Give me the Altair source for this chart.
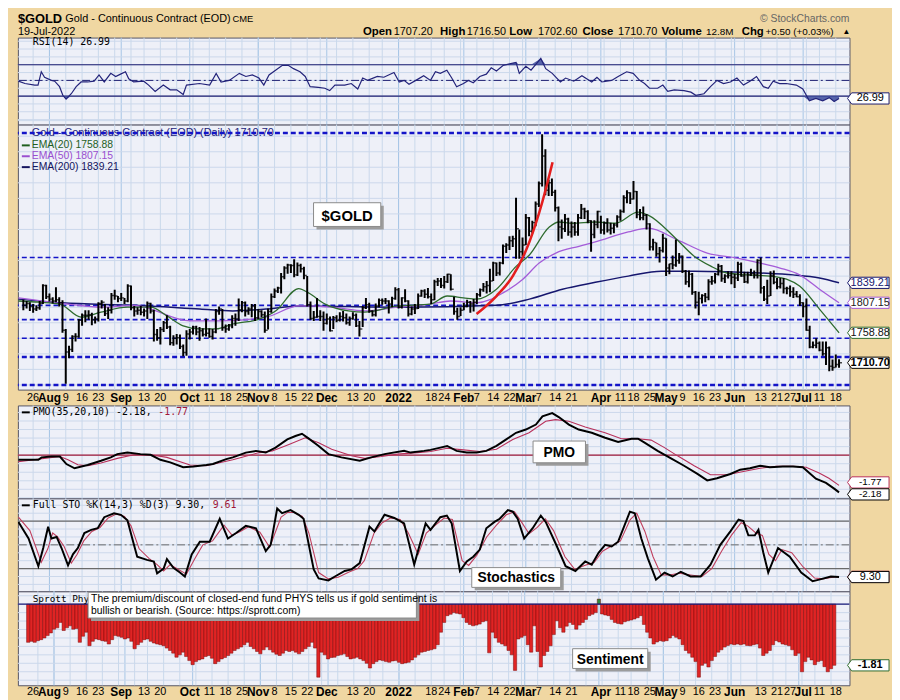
import altair as alt
import pandas as pd

# ---------------- calendar ----------------
HOLIDAYS = ["2021-09-06", "2021-11-25", "2021-12-24", "2022-01-17", "2022-02-21",
            "2022-04-15", "2022-05-30", "2022-06-20", "2022-07-04"]
dates = pd.bdate_range("2021-07-21", "2022-07-19", freq="C", holidays=HOLIDAYS)
N = len(dates)

AXIS_DATES = ["2021-07-26", "2021-08-02", "2021-08-09", "2021-08-16", "2021-08-23", "2021-09-01",
              "2021-09-13", "2021-09-20", "2021-10-01", "2021-10-11", "2021-10-18", "2021-10-25",
              "2021-11-01", "2021-11-08", "2021-11-15", "2021-11-22", "2021-12-01", "2021-12-13",
              "2021-12-20", "2022-01-03", "2022-01-18", "2022-01-24", "2022-02-01", "2022-02-07",
              "2022-02-14", "2022-02-22", "2022-03-01", "2022-03-07", "2022-03-14", "2022-03-21",
              "2022-04-01", "2022-04-11", "2022-04-18", "2022-04-25", "2022-05-02", "2022-05-09",
              "2022-05-16", "2022-05-23", "2022-06-01", "2022-06-13", "2022-06-21", "2022-06-27",
              "2022-07-01", "2022-07-11", "2022-07-18"]
AXIS_TEXT = ["26", "Aug", "9", "16", "23", "Sep", "13", "20", "Oct", "11", "18", "25", "Nov", "8", "15",
             "22", "Dec", "13", "20", "2022", "18", "24", "Feb", "7", "14", "22", "Mar", "7", "14", "21",
             "Apr", "11", "18", "25", "May", "9", "16", "23", "Jun", "13", "21", "27", "Jul", "11", "18"]
MONTH_TEXT = ["Aug", "Sep", "Oct", "Nov", "Dec", "2022", "Feb", "Mar", "Apr", "May", "Jun", "Jul"]

# ---------------- price data (daily) ----------------
closes = [1803, 1806, 1801, 1797, 1799, 1806, 1835, 1817,
          1813, 1810, 1812, 1807, 1763, 1728, 1732, 1753, 1753, 1779,
          1787, 1787, 1788, 1780, 1781, 1806, 1808, 1790, 1795, 1819,
          1818, 1814, 1815, 1810, 1834, 1799, 1794, 1795, 1792,
          1794, 1806, 1794, 1756, 1751, 1764, 1775, 1768, 1743, 1750,
          1751, 1737, 1727, 1757, 1760, 1768, 1760, 1762, 1756, 1758,
          1753, 1760, 1793, 1797, 1767, 1765, 1770, 1782, 1781, 1796,
          1807, 1793, 1797, 1802, 1783, 1793, 1788, 1763, 1793, 1817,
          1826, 1831, 1849, 1863, 1868, 1867, 1852, 1867, 1862, 1851,
          1804, 1782, 1784, 1785, 1785, 1774, 1781, 1762, 1783,
          1779, 1785, 1783, 1775, 1782, 1787, 1770, 1765, 1799, 1804,
          1794, 1788, 1802, 1811, 1810, 1810, 1805, 1814, 1828,
          1800, 1815, 1810, 1789, 1797, 1798, 1818, 1826, 1821, 1817,
          1812, 1841, 1842, 1835, 1841, 1853, 1829, 1793, 1785,
          1795, 1801, 1808, 1805, 1808, 1820, 1828, 1833, 1835, 1842,
          1871, 1855, 1871, 1898, 1900, 1907, 1910, 1926, 1889,
          1900, 1944, 1922, 1936, 1966, 1999, 2043, 1988, 2000, 1985,
          1960, 1929, 1926, 1942, 1921, 1929, 1921, 1944, 1958, 1954,
          1939, 1917, 1933, 1954, 1924, 1935, 1924, 1927, 1932, 1945,
          1954, 1976, 1984, 1974, 1986, 1949, 1944, 1948, 1934,
          1897, 1904, 1886, 1891, 1911, 1863, 1870, 1868, 1875, 1882,
          1858, 1841, 1853, 1824, 1808, 1814, 1819, 1816, 1841, 1842,
          1853, 1866, 1846, 1850, 1851, 1848, 1847, 1869, 1850,
          1841, 1852, 1854, 1852, 1875, 1831, 1813, 1818, 1851, 1840,
          1833, 1838, 1830, 1830, 1825, 1821, 1817, 1807, 1801,
          1763, 1736, 1739, 1742, 1731, 1725, 1735, 1705, 1703, 1708, 1710.7]
highs = [1812, 1810, 1808, 1805, 1803, 1810, 1837, 1836,
         1822, 1816, 1832, 1816, 1811, 1765, 1738, 1755, 1758, 1781,
         1790, 1795, 1795, 1791, 1785, 1808, 1811, 1805, 1800, 1823,
         1828, 1818, 1823, 1815, 1837, 1835, 1802, 1800, 1802,
         1798, 1809, 1807, 1796, 1765, 1768, 1778, 1787, 1770, 1755,
         1757, 1756, 1740, 1763, 1765, 1770, 1770, 1768, 1766, 1782,
         1766, 1765, 1797, 1801, 1797, 1772, 1773, 1787, 1790, 1814,
         1810, 1809, 1800, 1805, 1805, 1797, 1795, 1793, 1798, 1822,
         1830, 1833, 1855, 1866, 1870, 1869, 1877, 1872, 1870, 1865,
         1850, 1809, 1794, 1815, 1795, 1793, 1790, 1785, 1786,
         1787, 1792, 1794, 1790, 1785, 1792, 1790, 1778, 1802, 1815,
         1807, 1795, 1806, 1814, 1814, 1815, 1811, 1817, 1832,
         1831, 1816, 1829, 1811, 1801, 1805, 1822, 1828, 1829, 1831,
         1822, 1844, 1847, 1847, 1850, 1854, 1853, 1817, 1799,
         1800, 1807, 1812, 1810, 1813, 1823, 1830, 1839, 1842, 1862,
         1873, 1872, 1873, 1901, 1903, 1914, 1915, 1976, 1925,
         1912, 1950, 1945, 1939, 1970, 2002, 2078, 2054, 2005, 2007,
         1989, 1962, 1941, 1950, 1944, 1938, 1937, 1950, 1966, 1960,
         1956, 1940, 1940, 1955, 1947, 1938, 1943, 1936, 1935, 1948,
         1957, 1980, 1988, 1985, 2003, 1987, 1958, 1962, 1950,
         1935, 1910, 1904, 1897, 1918, 1911, 1870, 1883, 1909, 1887,
         1883, 1860, 1859, 1855, 1826, 1825, 1821, 1823, 1845, 1850,
         1855, 1870, 1868, 1853, 1858, 1858, 1854, 1873, 1872,
         1857, 1857, 1862, 1859, 1877, 1880, 1834, 1844, 1858, 1859,
         1847, 1847, 1847, 1833, 1835, 1832, 1826, 1821, 1808,
         1814, 1770, 1745, 1750, 1745, 1745, 1745, 1737, 1716, 1724, 1716.5]
lows = [1795, 1798, 1794, 1791, 1794, 1796, 1805, 1813,
        1809, 1806, 1808, 1801, 1759, 1677, 1718, 1728, 1745, 1751,
        1770, 1776, 1780, 1771, 1774, 1777, 1798, 1786, 1781, 1790,
        1812, 1808, 1810, 1805, 1808, 1795, 1785, 1788, 1787,
        1785, 1781, 1790, 1745, 1746, 1740, 1760, 1765, 1739, 1738,
        1740, 1733, 1721, 1722, 1748, 1756, 1755, 1746, 1753, 1753,
        1751, 1748, 1758, 1788, 1762, 1759, 1762, 1766, 1770, 1778,
        1792, 1785, 1788, 1784, 1778, 1781, 1784, 1759, 1764, 1791,
        1815, 1823, 1822, 1845, 1854, 1855, 1848, 1850, 1856, 1845,
        1801, 1780, 1778, 1783, 1778, 1762, 1772, 1761, 1765,
        1776, 1777, 1777, 1772, 1770, 1780, 1768, 1753, 1768, 1797,
        1791, 1785, 1785, 1800, 1804, 1805, 1790, 1800, 1812,
        1798, 1798, 1808, 1785, 1787, 1789, 1797, 1817, 1815, 1814,
        1805, 1811, 1834, 1831, 1830, 1839, 1827, 1788, 1780,
        1786, 1795, 1800, 1791, 1793, 1805, 1817, 1825, 1822, 1824,
        1842, 1850, 1851, 1869, 1887, 1892, 1897, 1878, 1878,
        1882, 1900, 1914, 1919, 1930, 1961, 1994, 1980, 1979, 1979,
        1954, 1906, 1910, 1921, 1915, 1912, 1915, 1915, 1942, 1942,
        1935, 1889, 1911, 1927, 1918, 1917, 1920, 1917, 1919, 1928,
        1939, 1952, 1967, 1966, 1973, 1943, 1940, 1940, 1925,
        1891, 1891, 1881, 1872, 1888, 1850, 1853, 1861, 1865, 1870,
        1855, 1836, 1832, 1820, 1798, 1787, 1806, 1808, 1811, 1836,
        1838, 1851, 1841, 1839, 1846, 1837, 1831, 1842, 1849,
        1839, 1838, 1850, 1846, 1846, 1822, 1810, 1805, 1818, 1837,
        1829, 1830, 1822, 1821, 1817, 1815, 1816, 1802, 1784,
        1762, 1734, 1734, 1734, 1729, 1722, 1707, 1697, 1698, 1703, 1702.6]

# moving averages (bar index, value)
ema20_i = [-1.5, 5, 11.2, 17.7, 23.8, 31.9, 39, 44, 49, 54.1, 59.1, 64.2, 72.3, 77.3, 84.4, 87.4, 92.5,
           99.6, 104.6, 114.7, 124.8, 129.9, 134.9, 138.9, 145, 151.1, 155.1, 161.2, 164.2, 168.2,
           175.3, 181.4, 188.4, 191.5, 199.5, 205.6, 210.7, 215.7, 221.8, 228.8, 233.9, 237.9, 244, 250]
ema20_v = [1810, 1808, 1805, 1784, 1792, 1800, 1800, 1786, 1770, 1765, 1765, 1773, 1781, 1794, 1830, 1823,
           1805, 1794, 1792, 1802, 1805, 1818, 1815, 1813, 1829, 1866, 1884, 1929, 1937, 1935, 1937, 1935,
           1953, 1948, 1913, 1882, 1866, 1855, 1852, 1850, 1845, 1834, 1797, 1758.88]
ema50_i = [-1.5, 13.7, 23.8, 33.9, 51.1, 60.2, 74.3, 84.4, 94.5, 104.6, 114.7, 124.8, 130.9, 138.9, 147,
           153.1, 158.1, 163.2, 170.3, 175.3, 185.4, 191.5, 200.6, 209.6, 218.7, 225.8, 231.9, 237.9, 244, 250]
ema50_v = [1815, 1805, 1800, 1803, 1778, 1778, 1784, 1802, 1800, 1794, 1800, 1805, 1810, 1807, 1823, 1845,
           1871, 1887, 1898, 1905, 1921, 1927, 1908, 1887, 1879, 1871, 1863, 1852, 1829, 1807.15]
ema200_i = [-1.5, 11.7, 33.9, 54.1, 64.2, 74.3, 84.4, 114.7, 145, 155.1, 165.2, 175.3, 185.4, 195.5,
            205.6, 215.7, 225.8, 235.9, 244, 250]
ema200_v = [1813, 1807, 1803, 1797, 1794, 1797, 1802, 1800, 1803, 1813, 1829, 1840, 1850, 1858, 1858,
            1857, 1855, 1852, 1847, 1839.21]
curve_i = [138.9, 145, 150, 155.1, 159.1, 162.2]
curve_v = [1789, 1818, 1850, 1905, 1970, 2033]
levels_thin = [1880, 1803, 1780, 1750]
levels_thick = [2080, 1720, 1675]

# ---------------- RSI ----------------
rsi_i = [-1.5, 0.5, 3.5, 4.5, 5.5, 6.5, 8.6, 9.6, 11.1, 12.1, 13.1, 14.7, 16.2, 17.7, 19.7, 21.7, 23.2, 24.8,
         26.8, 28.3, 29.8, 31.3, 32.3, 33.8, 36.9, 38.4, 40.4, 42.9, 45, 47, 49, 50, 54, 57.1, 59.1, 60.6,
         63.1, 66.2, 68.2, 70.2, 72.2, 73.7, 75.3, 77.3, 79.3, 81.3, 82.8, 84.8, 86.4, 87.9, 90.4, 92.4,
         93.9, 95.5, 98.5, 100.5, 102.5, 104, 105.5, 108.5, 110.5, 113.6, 115.2, 116.7, 118.2, 120.7, 122.7,
         124.8, 126.3, 127.8, 129.8, 131.3, 132.8, 134.9, 136.4, 137.9, 139.9, 141.9, 143.4, 145, 147, 149,
         151, 152, 154, 155.6, 158.6, 160.1, 162.1, 164.6, 166.2, 168.7, 171.2, 174.2, 175.8, 177.3, 180.3,
         182.3, 184.9, 186.9, 188.9, 190.4, 191.9, 194.4, 196, 197.5, 199.5, 202.5, 204.6, 206.1, 208.6,
         210.6, 212.6, 214.6, 216.7, 218.7, 220.7, 222.7, 224.7, 226.8, 228.3, 229.8, 231.8, 233.8, 236.9,
         238.9, 240.9, 242.9, 245, 247, 248.5, 250]
rsi_v = [49, 46, 44, 44, 61, 54, 50, 49, 42, 31, 26, 33, 42, 48, 48, 49, 57, 48, 59, 55, 58, 61, 52, 48, 49,
         44, 36, 44, 38, 38, 32, 44, 46, 44, 59, 48, 50, 59, 55, 57, 53, 44, 57, 63, 69, 69, 65, 61, 55, 42,
         41, 40, 37, 44, 44, 46, 39, 53, 50, 55, 54, 60, 48, 50, 45, 51, 56, 50, 61, 59, 63, 53, 42, 46, 50,
         47, 55, 58, 66, 62, 69, 71, 73, 59, 68, 63, 78, 65, 59, 48, 53, 49, 56, 48, 54, 48, 50, 55, 61, 59,
         50, 46, 40, 40, 44, 36, 38, 37, 35, 31, 33, 42, 50, 46, 48, 53, 44, 49, 55, 42, 40, 49, 46, 46, 44,
         39, 24, 27, 24, 28, 23, 26.99]

# ---------------- PMO ----------------
pmo_i = [-1.5, 4.6, 5.6, 8.6, 11.2, 13.2, 15.7, 19.7, 23.8, 26.8, 28.8, 31.9, 35.9, 39, 42, 45, 49, 52.1,
         56.1, 58.1, 62.2, 64.2, 68.2, 71.3, 74.3, 77.3, 80.9, 83.4, 85.4, 87.4, 90.5, 93.5, 97.5, 103.1,
         106.6, 110.7, 116.7, 118.7, 122.8, 124.8, 127.8, 129.9, 132.8, 135.9, 138.9, 141.9, 145, 148, 151,
         154, 157.1, 159.1, 162.1, 164.1, 167.2, 170.2, 174.2, 178.3, 182.3, 186.4, 188.4, 190.4, 194.4,
         198.5, 202.5, 206.6, 209.6, 212.6, 216.7, 219.7, 222.7, 225.8, 228.8, 232.8, 235.9, 238.9, 240.9,
         242.9, 246, 248.5, 250]
pmo_v = [-0.27, -0.27, -0.13, -0.08, -0.08, -0.52, -0.77, -0.58, -0.33, -0.13, 0.06, 0.15, 0.06, 0.02,
         -0.27, -0.42, -0.71, -0.67, -0.58, -0.52, -0.23, -0.13, 0.15, 0.25, 0.15, 0.44, 0.92, 1.12, 1.25,
         0.98, 0.54, 0.06, -0.13, -0.33, -0.13, 0.06, 0.25, 0.15, 0.25, 0.31, 0.44, 0.54, 0.25, 0.15, 0.15,
         0.25, 0.54, 0.92, 1.31, 1.5, 1.79, 2.27, 2.46, 2.23, 1.79, 1.5, 1.31, 1.02, 0.77, 0.96, 0.96, 0.73,
         0.25, -0.19, -0.62, -1.1, -1.48, -1.35, -1.1, -0.85, -0.77, -0.62, -0.71, -0.67, -0.67, -0.71,
         -1.04, -1.38, -1.62, -1.96, -2.18]
sig_i = [-1.5, 11.2, 13.7, 16.7, 19.8, 23.8, 28.8, 33.9, 39, 44, 51.1, 56.1, 64.2, 72.3, 76.3, 81.4, 86.4,
         90.5, 94.5, 100.6, 104.6, 109.7, 114.7, 120.8, 124.8, 129.9, 134.9, 139.9, 145, 150, 155, 160.1,
         163.1, 167.2, 172.2, 178.3, 183.3, 188.4, 192.4, 196.5, 200.5, 205.6, 210.6, 215.7, 220.7, 225.8,
         230.8, 235.9, 239.9, 243.9, 246.9, 250]
sig_v = [-0.38, -0.08, -0.27, -0.56, -0.62, -0.46, -0.19, 0.02, 0.02, -0.13, -0.58, -0.62, -0.27, 0.15,
         0.25, 0.63, 1.02, 0.73, 0.35, -0.04, -0.19, -0.08, 0.06, 0.15, 0.21, 0.4, 0.31, 0.21, 0.35, 0.92,
         1.31, 1.98, 2.08, 1.98, 1.65, 1.31, 0.96, 0.96, 0.88, 0.44, -0.04, -0.62, -1.15, -1.15, -0.96,
         -0.77, -0.65, -0.65, -0.71, -1.04, -1.35, -1.77]

# ---------------- Full Stochastics ----------------
k_i = [-1.5, 1.6, 4.6, 6.1, 7.6, 8.6, 10.2, 11.7, 13.7, 15.2, 16.7, 18.7, 20.8, 22.8, 24.8, 27.8, 29.9, 31.9,
       33.9, 34.9, 37.9, 40, 41, 43, 44, 46, 48, 49.5, 51.6, 54.1, 57.1, 60.2, 62.7, 65.2, 68.2, 71.3,
       74.3, 75.8, 77.8, 79.3, 81.9, 84.4, 85.9, 89, 90.5, 93.5, 95.5, 98.5, 100.6, 103.1, 106.1, 107.6,
       110.7, 113.7, 116.7, 119.8, 123.3, 124.8, 127.8, 129.8, 131.3, 133.8, 135.9, 137.9, 139.9, 141.9,
       144.4, 146, 148.5, 150, 151.5, 153.5, 156.1, 158.6, 160.1, 163.1, 166.2, 169.2, 172.2, 174.2,
       176.3, 178.3, 180.3, 182.3, 185.9, 187.4, 189.4, 191.4, 193.9, 196.5, 199, 201.5, 204.5, 207.6,
       210.6, 213.6, 216.7, 219.2, 220.7, 222.2, 224.2, 225.3, 226.8, 228.3, 231.3, 234.9, 238.4, 241.9,
       243.9, 247.5, 250]
k_v = [79, 58, 23, 46, 73, 58, 60, 46, 24, 38, 46, 65, 69, 71, 85, 90, 88, 81, 50, 35, 31, 29, 14, 20, 32,
       21, 15, 10, 38, 54, 54, 83, 58, 65, 74, 71, 42, 50, 96, 90, 94, 88, 83, 19, 7.5, 5, 10, 17, 19, 27,
       73, 67, 88, 84, 77, 25, 77, 69, 85, 87, 77, 17, 29, 35, 44, 71, 79, 83, 94, 92, 83, 58, 71, 87, 79,
       52, 23, 17, 29, 25, 40, 50, 48, 54, 92, 90, 58, 33, 6, 15, 10, 16, 10, 10, 25, 50, 67, 82, 80, 62,
       62, 69, 40, 15, 46, 35, 15, 4, 6, 10, 9.3]
d_i = [-1.5, 2, 5.5, 7.5, 9, 10.5, 12.5, 14.7, 16.5, 18.5, 21, 23.5, 26, 28.5, 31, 33, 35.5, 38.5, 41, 43,
       45, 47, 50, 52.5, 55, 58, 61.5, 64, 66.5, 69, 72.5, 75.5, 79, 81, 83, 85.5, 87.5, 90.5, 93.5, 96.5,
       100, 102.5, 104.5, 107.5, 110, 112.5, 115.5, 118, 121, 123.5, 126, 129, 131.5, 134.5, 136.5, 139,
       142, 145, 148, 150.5, 152.5, 155, 157.5, 160, 162.5, 166, 169, 172, 175, 177.5, 180, 183, 186,
       188, 190.5, 193, 195.5, 198, 201, 204.5, 208, 211, 214, 217, 220, 222, 224.5, 226.5, 228.5, 230.5,
       232.5, 235.5, 239, 242.5, 245, 248, 250]
d_v = [85, 68, 28, 45, 65, 60, 48, 27, 38, 55, 67, 72, 84, 89, 86, 74, 45, 33, 25, 17, 25, 20, 13, 32, 50,
       55, 75, 62, 67, 73, 66, 47, 85, 91, 91, 86, 65, 15, 7, 9, 16, 20, 30, 65, 78, 84, 82, 65, 38, 65,
       74, 84, 82, 30, 24, 37, 60, 75, 88, 92, 80, 64, 72, 83, 68, 35, 19, 24, 28, 42, 48, 55, 82, 90, 67,
       35, 12, 12, 14, 12, 10, 20, 42, 62, 78, 74, 65, 62, 38, 30, 44, 40, 22, 8, 7, 9, 9.61]

# ---------------- Sprott PHYS premium / discount (daily) ----------------
sentiment = [-1.13, -1.10, -1.13, -1.08, -1.05, -1.00, -0.93, -0.85, -0.74, -0.70,
             -0.54, -0.78, -0.70, -0.64, -0.74, -0.72, -1.13, -0.95, -0.83, -1.23,
             -1.10, -1.03, -1.05, -1.08, -1.10, -1.18, -1.05, -0.93, -0.95, -0.98,
             -1.03, -1.00, -1.10, -1.32, -1.20, -1.13, -1.05, -1.03, -1.10, -1.15,
             -1.18, -1.20, -1.23, -1.30, -1.37, -1.45, -1.57, -1.50, -1.42, -1.55,
             -1.67, -1.79, -1.70, -1.65, -1.62, -1.55, -1.52, -1.60, -1.76, -1.70,
             -1.62, -1.58, -1.52, -1.45, -1.37, -1.32, -1.27, -1.20, -1.13, -1.25,
             -1.32, -1.40, -1.47, -1.35, -1.27, -1.35, -1.42, -1.48, -1.52, -1.45,
             -1.37, -1.40, -1.37, -1.42, -1.47, -1.40, -1.32, -1.25, -1.13, -1.30,
             -2.16, -1.42, -1.50, -1.62, -1.58, -1.57, -1.52, -1.50, -1.47, -1.55,
             -1.62, -1.60, -1.57, -1.62, -1.67, -1.75, -1.89, -1.76, -1.70, -1.65,
             -1.67, -1.70, -1.72, -1.68, -1.67, -1.72, -1.76, -1.74, -1.72, -1.65,
             -1.57, -1.50, -1.42, -1.40, -1.37, -1.35, -1.32, -1.20, -0.83, -0.54,
             -0.34, -0.30, -0.25, -0.27, -0.29, -0.40, -0.54, -0.60, -0.64, -0.62,
             -0.59, -0.52, -0.49, -1.44, -0.83, -1.00, -1.13, -1.18, -1.23, -1.37,
             -1.50, -1.96, -1.03, -0.98, -0.93, -1.20, -1.42, -0.64, -1.40, -1.86,
             -1.52, -1.40, -1.23, -0.90, -0.49, -0.70, -0.83, -0.65, -0.54, -0.60,
             -0.74, -0.62, -0.54, -0.45, -0.34, -0.30, -0.25, 0.15, -0.29, -0.32,
             -0.34, -0.45, -0.54, -0.57, -0.59, -0.52, -0.49, -0.47, -0.44, -0.40,
             -0.34, -0.60, -0.83, -1.00, -1.18, -1.12, -1.08, -1.10, -1.08, -1.00,
             -0.93, -0.98, -1.03, -1.20, -1.37, -1.45, -1.57, -1.70, -2.16, -1.81,
             -1.75, -1.86, -1.67, -1.55, -1.42, -1.35, -1.27, -1.22, -1.18, -1.20,
             -1.18, -1.20, -1.18, -1.22, -1.23, -1.20, -1.18, -1.30, -1.52, -1.45,
             -1.37, -1.20, -1.08, -1.12, -1.18, -1.20, -1.23, -1.35, -1.52, -1.45,
             -2.00, -1.70, -1.57, -1.65, -1.79, -1.70, -1.67, -1.85, -2.00, -1.91, -1.81]

# ---------------- styling ----------------
W = 841
BG = "#F0D7A2"
PLOT_BG = "#EEF0F8"
BORDER = "#555566"
FONT = "Liberation Sans"
MONO = "DejaVu Sans Mono"
XS = alt.Scale(domain=[-1.67, 253.2], nice=False, zero=False)
TAG = "M-1,0L-0.8,-0.27L1,-0.27L1,0.27L-0.8,0.27Z"
TAGX = 860

dummy = pd.DataFrame({"d": [0]})
week_idx = [i for i in range(1, N) if dates[i].weekday() < dates[i - 1].weekday()]
month_idx = [i for i in range(1, N) if dates[i].month != dates[i - 1].month]
label_idx = list(dates.get_indexer(pd.to_datetime(AXIS_DATES)))


def txt(s, x, y, size=11, weight="normal", color="black", align="left", font=FONT):
    return alt.Chart(dummy).mark_text(text=s, fontSize=size, fontWeight=weight, color=color,
                                      align=align, baseline="middle", font=font).encode(
        x=alt.value(x), y=alt.value(y))


def box(x1, y1, x2, y2, label, size=14):
    shadow = alt.Chart(dummy).mark_rect(color="#9C9C9C").encode(
        x=alt.value(x1 + 3), x2=alt.value(x2 + 3), y=alt.value(y1 + 3), y2=alt.value(y2 + 3))
    face = alt.Chart(dummy).mark_rect(fill="white", stroke="#8A8A8A", strokeWidth=1).encode(
        x=alt.value(x1), x2=alt.value(x2), y=alt.value(y1), y2=alt.value(y2))
    layers = [shadow, face]
    if label:
        layers.append(txt(label, (x1 + x2) / 2, (y1 + y2) / 2 + 1, size=size, weight="bold", align="center"))
    return layers


def seg(x1, x2, y, color, w=2):
    return alt.Chart(dummy).mark_rule(color=color, strokeWidth=w).encode(
        x=alt.value(x1), x2=alt.value(x2), y=alt.value(y))


def vgrid():
    wk = alt.Chart(pd.DataFrame({"i": week_idx})).mark_rule(color="#C9D9EB", strokeWidth=1).encode(
        x=alt.X("i:Q", scale=XS, axis=None))
    mo = alt.Chart(pd.DataFrame({"i": month_idx})).mark_rule(color="#A6C5E6", strokeWidth=1).encode(
        x=alt.X("i:Q", scale=XS, axis=None))
    return [wk, mo]


def hgrid(vals, ys, axis_vals, fmt):
    ax = alt.Axis(orient="right", values=axis_vals, format=fmt, title=None, grid=False, domain=False,
                  ticks=True, tickSize=3, tickColor="#333333", labelFont=FONT, labelFontSize=11,
                  labelColor="black", labelPadding=1)
    return alt.Chart(pd.DataFrame({"v": vals})).mark_rule(color="#CBD8EB", strokeWidth=1).encode(
        y=alt.Y("v:Q", scale=ys, axis=ax))


def hlines(vals, ys, color, w=1, dash=None):
    kw = dict(color=color, strokeWidth=w)
    if dash:
        kw["strokeDash"] = dash
    return alt.Chart(pd.DataFrame({"v": vals})).mark_rule(**kw).encode(
        y=alt.Y("v:Q", scale=ys, axis=None))


def series(xs, vs, ys, color, w=1.2, interp="linear"):
    return alt.Chart(pd.DataFrame({"i": xs, "v": vs})).mark_line(
        color=color, strokeWidth=w, interpolate=interp, clip=True).encode(
        x=alt.X("i:Q", scale=XS, axis=None), y=alt.Y("v:Q", scale=ys, axis=None))


def tag(v, label, ys, border, tcolor="black", bold=False, shift=0, size=11):
    df = pd.DataFrame({"v": [v]})
    shape = alt.Chart(df).mark_point(shape=TAG, size=1764, filled=True, fill="white", fillOpacity=1,
                                     opacity=1, stroke=border, strokeWidth=1, clip=False,
                                     yOffset=shift).encode(
        x=alt.value(TAGX), y=alt.Y("v:Q", scale=ys, axis=None))
    t = alt.Chart(df).mark_text(text=label, font=FONT, fontSize=size, color=tcolor,
                                fontWeight="bold" if bold else "normal", align="center",
                                baseline="middle", clip=False, yOffset=shift).encode(
        x=alt.value(TAGX + 2), y=alt.Y("v:Q", scale=ys, axis=None))
    return [shape, t]


def panel_view():
    return alt.ViewBackground(fill=PLOT_BG, stroke=BORDER, strokeWidth=1)


def clear_view():
    return alt.ViewBackground(fill="transparent", stroke="transparent")


# ---------------- header ----------------
header = alt.layer(
    txt("$GOLD", 0, 5, size=13, weight="bold"),
    txt("Gold - Continuous Contract (EOD)", 48, 5.5, size=11),
    txt("CME", 217, 5.5, size=9.5),
    txt("19-Jul-2022", 0, 18.5, size=11),
    txt("© StockCharts.com", 841, 5, size=10.5, color="#666666", align="right"),
    txt("Open", 349, 18.5, size=11.5, weight="bold"), txt("1707.20", 380, 18.5, size=11),
    txt("High", 427, 18.5, size=11.5, weight="bold"), txt("1716.50", 454, 18.5, size=11),
    txt("Low", 497, 18.5, size=11.5, weight="bold"), txt("1702.60", 526, 18.5, size=11),
    txt("Close", 571, 18.5, size=11.5, weight="bold"), txt("1710.70", 607, 18.5, size=11),
    txt("Volume", 651, 18.5, size=11.5, weight="bold"), txt("12.8M", 696, 18.5, size=10),
    txt("Chg", 732, 18.5, size=11.5, weight="bold"), txt("+0.50 (+0.03%)", 756, 18.5, size=10),
    txt("▲", 834, 18, size=8),
).properties(width=W, height=24, view=clear_view())

# ---------------- RSI panel ----------------
ys_rsi = alt.Scale(domain=[-6.4, 104.6], nice=False, zero=False)
rsi_df = pd.DataFrame({"i": rsi_i, "v": rsi_v})
rsi_low = alt.Chart(rsi_df).transform_calculate(lo="min(datum.v, 30)", b="30").mark_area(
    color="#3D4B9C", opacity=0.85, orient="vertical", clip=True).encode(
    x=alt.X("i:Q", scale=XS, axis=None), y=alt.Y("lo:Q", scale=ys_rsi, axis=None), y2="b:Q")
rsi_high = alt.Chart(rsi_df).transform_calculate(hi="max(datum.v, 70)", b="70").mark_area(
    color="#3D4B9C", opacity=0.85, orient="vertical", clip=True).encode(
    x=alt.X("i:Q", scale=XS, axis=None), y=alt.Y("hi:Q", scale=ys_rsi, axis=None), y2="b:Q")
rsi_panel = alt.layer(
    *vgrid(),
    hgrid(list(range(0, 101, 10)), ys_rsi, [10, 30, 50, 70, 90], "d"),
    hlines([30, 70], ys_rsi, "#1C1C70", 1.2),
    hlines([50], ys_rsi, "#1C1C70", 1, [8, 3, 2, 3]),
    rsi_low, rsi_high,
    series(rsi_i, rsi_v, ys_rsi, "#23237A", 1.2),
    txt("RSI(14) 26.99", 15, 4.5, size=10, font=MONO),
    *tag(26.99, "26.99", ys_rsi, "#1C1C70"),
).properties(width=W, height=88, view=panel_view())

# ---------------- price panel ----------------
ys_p = alt.Scale(domain=[1667.5, 2093.6], nice=False, zero=False)
ohlc = pd.DataFrame({"i": list(range(N)), "h": highs, "l": lows, "c": closes})
bars = alt.Chart(ohlc).mark_rule(color="black", strokeWidth=2, clip=True).encode(
    x=alt.X("i:Q", scale=XS, axis=None), y=alt.Y("l:Q", scale=ys_p, axis=None), y2="h:Q")
close_ticks = alt.Chart(ohlc).mark_tick(color="black", orient="horizontal", size=3, thickness=1.5,
                                        xOffset=1.5, clip=True).encode(
    x=alt.X("i:Q", scale=XS, axis=None), y=alt.Y("c:Q", scale=ys_p, axis=None))
price_panel = alt.layer(
    *vgrid(),
    hgrid(list(range(1675, 2101, 25)), ys_p, list(range(1675, 2076, 25)), "d"),
    txt("Gold - Continuous Contract (EOD) (Daily) 1710.70", 14, 9, size=11, color="#22227A"),
    hlines(levels_thin, ys_p, "#1414C8", 1.6, [5, 3]),
    hlines(levels_thick, ys_p, "#1414C8", 2.6, [5, 3]),
    series(ema200_i, ema200_v, ys_p, "#16166E", 1.5, "monotone"),
    series(ema50_i, ema50_v, ys_p, "#A45CD8", 1.3, "monotone"),
    series(ema20_i, ema20_v, ys_p, "#2E6B2E", 1.3, "monotone"),
    bars, close_ticks,
    series(curve_i, curve_v, ys_p, "#E41E1E", 2.6, "monotone"),
    seg(4, 12, 21, "#1F5F1F"), txt("EMA(20) 1758.88", 14, 21, size=10.5, color="#1F5F1F"),
    seg(4, 12, 32, "#9A4FD0"), txt("EMA(50) 1807.15", 14, 32, size=10.5, color="#9A4FD0"),
    seg(4, 12, 43, "#14145E"), txt("EMA(200) 1839.21", 14, 43, size=10.5, color="#14145E"),
    *box(299, 79, 367, 103, "$GOLD", size=15),
    *tag(1839.21, "1839.21", ys_p, "#16166E", "#16166E"),
    *tag(1807.15, "1807.15", ys_p, "#A45CD8", "#222222"),
    *tag(1758.88, "1758.88", ys_p, "#2E6B2E", "#111111"),
    *tag(1710.70, "1710.70", ys_p, "black", "black", bold=True),
).properties(width=W, height=268, view=panel_view())

# ---------------- date strips ----------------
lab_df = pd.DataFrame({"i": label_idx, "t": AXIS_TEXT})


def date_strip(h, ymid):
    month = alt.Chart(lab_df).transform_filter(
        alt.FieldOneOfPredicate(field="t", oneOf=MONTH_TEXT)).mark_text(
        font=FONT, fontSize=12, fontWeight="bold", color="black", baseline="middle").encode(
        x=alt.X("i:Q", scale=XS, axis=None), y=alt.value(ymid), text="t:N")
    days = alt.Chart(lab_df).transform_filter(
        {"not": alt.FieldOneOfPredicate(field="t", oneOf=MONTH_TEXT)}).mark_text(
        font=FONT, fontSize=11, color="black", baseline="middle").encode(
        x=alt.X("i:Q", scale=XS, axis=None), y=alt.value(ymid), text="t:N")
    return alt.layer(month, days).properties(width=W, height=h, view=clear_view())


strip_mid = date_strip(16, 8.5)
strip_bot = date_strip(13, 7)

# ---------------- PMO panel ----------------
ys_pmo = alt.Scale(domain=[-2.53, 2.91], nice=False, zero=False)
pmo_panel = alt.layer(
    *vgrid(),
    hgrid([-2.5, -2, -1.5, -1, -0.5, 0, 0.5, 1, 1.5, 2, 2.5], ys_pmo, [-2, -1, 0, 1, 2], "d"),
    hlines([0], ys_pmo, "#A01838", 1.2),
    series(sig_i, sig_v, ys_pmo, "#B8305A", 1.1),
    series(pmo_i, pmo_v, ys_pmo, "black", 2.0),
    seg(4, 12, 7, "black"),
    txt("PMO(35,20,10) -2.18,", 15, 7, size=10, font=MONO),
    txt("-1.77", 142, 7, size=10, font=MONO, color="#A01838"),
    *box(521, 36, 574, 58, "PMO"),
    *tag(-1.77, "-1.77", ys_pmo, "#B8305A", shift=-3, size=10),
    *tag(-2.18, "-2.18", ys_pmo, "black", shift=2, size=10),
).properties(width=W, height=94, view=panel_view())

# ---------------- Stochastics panel ----------------
ys_sto = alt.Scale(domain=[-8.75, 108.75], nice=False, zero=False)
sto_panel = alt.layer(
    *vgrid(),
    hgrid(list(range(0, 101, 10)), ys_sto, [20, 50, 80], "d"),
    hlines([20, 80], ys_sto, "#6A6A6A", 1.2),
    hlines([50], ys_sto, "#6A6A6A", 1, [8, 3, 2, 3]),
    series(d_i, d_v, ys_sto, "#C0405E", 1.1),
    series(k_i, k_v, ys_sto, "black", 2.0),
    seg(4, 12, 7, "black"),
    txt("Full STO %K(14,3) %D(3) 9.30,", 15, 7, size=10, font=MONO),
    txt("9.61", 197, 7, size=10, font=MONO, color="#A01838"),
    *box(459, 70, 549, 90, "Stochastics"),
    *tag(9.61, "9.61", ys_sto, "#C0405E"),
    *tag(9.30, "9.30", ys_sto, "black"),
).properties(width=W, height=94, view=panel_view())

# ---------------- Sentiment panel ----------------
ys_s = alt.Scale(domain=[-2.40, 0.38], nice=False, zero=False)
sent_df = pd.DataFrame({"i": list(range(N)), "v": sentiment})
sent_bars = alt.Chart(sent_df).transform_calculate(z="0").mark_bar(
    width=3.3, stroke="#7A0A0A", strokeWidth=0.5, clip=True).encode(
    x=alt.X("i:Q", scale=XS, axis=None), y=alt.Y("v:Q", scale=ys_s, axis=None), y2="z:Q",
    color=alt.condition("datum.v > 0", alt.value("#2E8B3E"), alt.value("#E02424")))
sent_panel = alt.layer(
    *vgrid(),
    hgrid([-2.25, -2, -1.75, -1.5, -1.25, -1, -0.75, -0.5, -0.25, 0, 0.25], ys_s,
          [-2.0, -1.5, -1.0, -0.5, 0.0], ".1f"),
    sent_bars,
    hlines([0], ys_s, "#1A1A7A", 1.2),
    txt("Sprott Phy", 15, 8, size=9.5, font=MONO),
    *box(71, 1, 403, 27, None),
    txt("The premium/discount of closed-end fund PHYS tells us if gold sentiment is", 74, 8, size=10.5),
    txt("bullish or bearish. (Source: https://sprott.com)", 74, 20, size=10.5),
    *box(561, 58, 637, 78, "Sentiment"),
    *tag(-1.81, "-1.81", ys_s, "#2E6B2E", "black", bold=True),
).properties(width=W, height=95, view=panel_view())

chart = alt.vconcat(
    header, rsi_panel, price_panel, strip_mid, pmo_panel, sto_panel, sent_panel, strip_bot,
    spacing=0, bounds="flush",
).properties(
    background=BG,
    padding={"left": 8, "top": 0, "right": 0, "bottom": 0},
)

chart.save("out.html", embed_options={"renderer": "svg", "actions": False})
